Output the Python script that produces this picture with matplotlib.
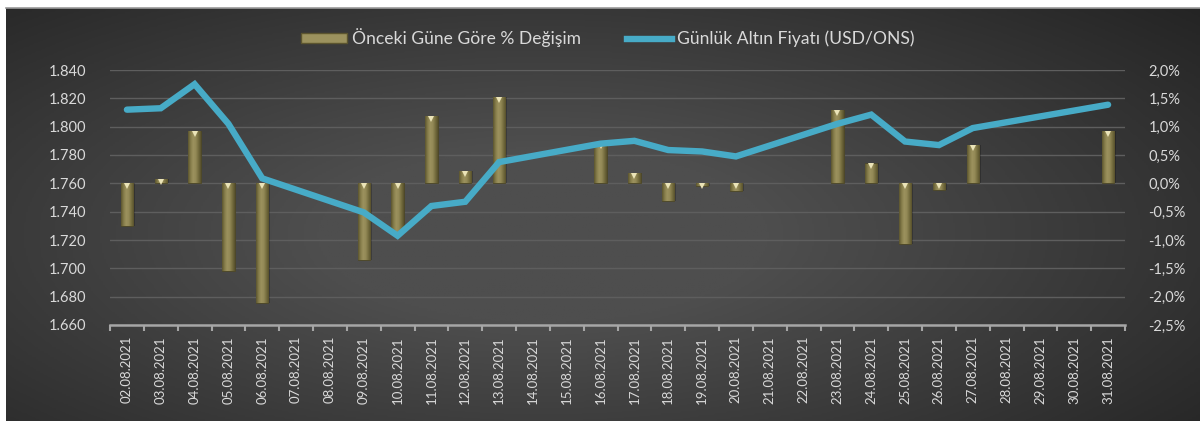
import matplotlib
matplotlib.use("Agg")
import matplotlib.pyplot as plt
import matplotlib.transforms as mtransforms
from matplotlib.colors import LinearSegmentedColormap
from matplotlib.lines import Line2D
from matplotlib.patches import Patch
from matplotlib.ticker import FuncFormatter, FixedLocator
import numpy as np

plt.rcParams['font.family'] = ['Lato', 'DejaVu Sans']

# data
dates = ["02.08.2021", "03.08.2021", "04.08.2021", "05.08.2021", "06.08.2021",
         "07.08.2021", "08.08.2021", "09.08.2021", "10.08.2021", "11.08.2021",
         "12.08.2021", "13.08.2021", "14.08.2021", "15.08.2021", "16.08.2021",
         "17.08.2021", "18.08.2021", "19.08.2021", "20.08.2021", "21.08.2021",
         "22.08.2021", "23.08.2021", "24.08.2021", "25.08.2021", "26.08.2021",
         "27.08.2021", "28.08.2021", "29.08.2021", "30.08.2021", "31.08.2021"]
price = [1812, 1813, 1830, 1802, 1763.5,
         None, None, 1739.5, 1723, 1744,
         1747, 1775, None, None, 1788,
         1790, 1783.5, 1782.5, 1779, None,
         None, 1802, 1808.5, 1789.5, 1787,
         1799, None, None, None, 1815.5]
change = [-0.76, 0.07, 0.92, -1.55, -2.11,
          None, None, -1.35, -0.87, 1.18,
          0.22, 1.52, None, None, 0.71,
          0.18, -0.31, -0.05, -0.14, None,
          None, 1.29, 0.35, -1.07, -0.11,
          0.67, None, None, None, 0.92]

label_bar = "Önceki Güne Göre % Değişim"
label_line = "Günlük Altın Fiyatı (USD/ONS)"

text_col = "#d9d9d9"
line_col = "#47abc7"

W, H = 1200, 421
fig = plt.figure(figsize=(W / 100, H / 100), dpi=100)
fig.patch.set_facecolor("white")

# background panel with radial gradient
bg = fig.add_axes([6 / W, 0, 1194 / W, 413 / H])
bg.set_axis_off()
yy, xx = np.mgrid[0:1:200j, 0:1:600j]
r = np.sqrt(((xx - 0.45) / 0.75) ** 2 + ((yy - 0.45) / 0.85) ** 2)
shade = np.clip(1 - r, 0, 1)
bgcmap = LinearSegmentedColormap.from_list("bg", ["#232323", "#4e4e4e"])
bg.imshow(shade, cmap=bgcmap, aspect="auto", vmin=0.0, vmax=0.75,
          extent=[0, 1, 0, 1], origin="lower")
bg.set_xlim(0, 1)
bg.set_ylim(0, 1)
fig.add_artist(Line2D([6 / W, 1], [413 / H, 413 / H], color="#9a9a9a", lw=1.2))

x0, x1 = 110 / W, 1125 / W
y0, y1 = (H - 325) / H, (H - 70) / H
ax = fig.add_axes([x0, y0, x1 - x0, y1 - y0])
ax.patch.set_alpha(0)
ax2 = ax.twinx()
ax2.patch.set_alpha(0)
n = len(dates)
x = np.arange(n)

# bars (percent, right axis)
gold = LinearSegmentedColormap.from_list(
    "gold", ["#5c552f", "#857c4a", "#9c925e", "#948a57", "#776f40", "#58512c"])
grad = np.linspace(0, 1, 64).reshape(1, -1)
bw = 0.36
for i, v in enumerate(change):
    if v is None:
        continue
    # shadow
    ax.bar(i + 0.05, v, width=bw, bottom=0, color="black", alpha=0.22,
           zorder=1)
    b = ax.bar(i, v, width=bw, color="#857c4a", edgecolor="#4a4526",
               linewidth=0.6, zorder=2)[0]
    im = ax.imshow(grad, cmap=gold, aspect="auto", zorder=2.5,
                   extent=[i - bw / 2, i + bw / 2, min(0, v), max(0, v)])
    im.set_clip_path(b)
    top = max(0, v)
    tr = mtransforms.offset_copy(ax.transData, fig=fig, x=0, y=-3,
                                 units="dots")
    ax.plot([i], [top], marker="v", markersize=4.2, color="#ebe4b8",
            markeredgewidth=0, transform=tr, zorder=3)

ax.set_xlim(-0.5, n - 0.5)
ax.set_ylim(-2.5, 2.0)
ax.set_yticks(np.arange(-2.5, 2.01, 0.5))
ax.yaxis.set_major_formatter(
    FuncFormatter(lambda v, p: f"{v:.1f}%".replace(".", ",")))
ax.yaxis.tick_right()
ax.tick_params(axis="y", length=0, pad=17, labelsize=10.5, labelcolor=text_col)
ax.grid(axis="y", color="#5e5e5e", linewidth=1)
ax.set_axisbelow(True)
for s in ["top", "left", "right"]:
    ax.spines[s].set_visible(False)
ax.spines["bottom"].set_color("#a6a6a6")
ax.spines["bottom"].set_linewidth(1.8)
ax.spines["bottom"].set_zorder(5)

ax.set_xticks(x)
ax.set_xticklabels(dates, rotation=90)
ax.xaxis.set_minor_locator(FixedLocator(np.arange(-0.5, n, 1.0)))
ax.tick_params(axis="x", which="major", length=0, pad=8, labelsize=9.5,
               labelcolor=text_col)
ax.tick_params(axis="x", which="minor", length=4, width=1.5,
               color="#a6a6a6", direction="out")

# line (price, left axis)
px = [i for i, v in enumerate(price) if v is not None]
py = [v for v in price if v is not None]
ax2.plot(px, py, color=line_col, lw=4.6, solid_joinstyle="miter",
         solid_capstyle="round", zorder=4)
ax2.set_ylim(1660, 1840)
ax2.set_yticks(np.arange(1660, 1841, 20))
ax2.yaxis.set_major_formatter(
    FuncFormatter(lambda v, p: f"{v:,.0f}".replace(",", ".")))
ax2.yaxis.tick_left()
ax2.yaxis.set_label_position("left")
ax2.tick_params(axis="y", length=0, pad=17, labelsize=10.5, labelcolor=text_col)
for s in ax2.spines.values():
    s.set_visible(False)
ax2.set_xlim(-0.5, n - 0.5)

handles = [Patch(facecolor="#9c925e", edgecolor="#5c552f", label=label_bar),
           Line2D([], [], color=line_col, lw=4.6, label=label_line)]
fig.legend(handles=handles, loc="center", bbox_to_anchor=(608 / W, 1 - 38 / H),
           ncol=2, frameon=False, fontsize=12.6, labelcolor=text_col,
           handlelength=2.6, handleheight=0.5, columnspacing=2.6,
           handletextpad=0.3)

fig.savefig("out.png", dpi=100, facecolor="white")
